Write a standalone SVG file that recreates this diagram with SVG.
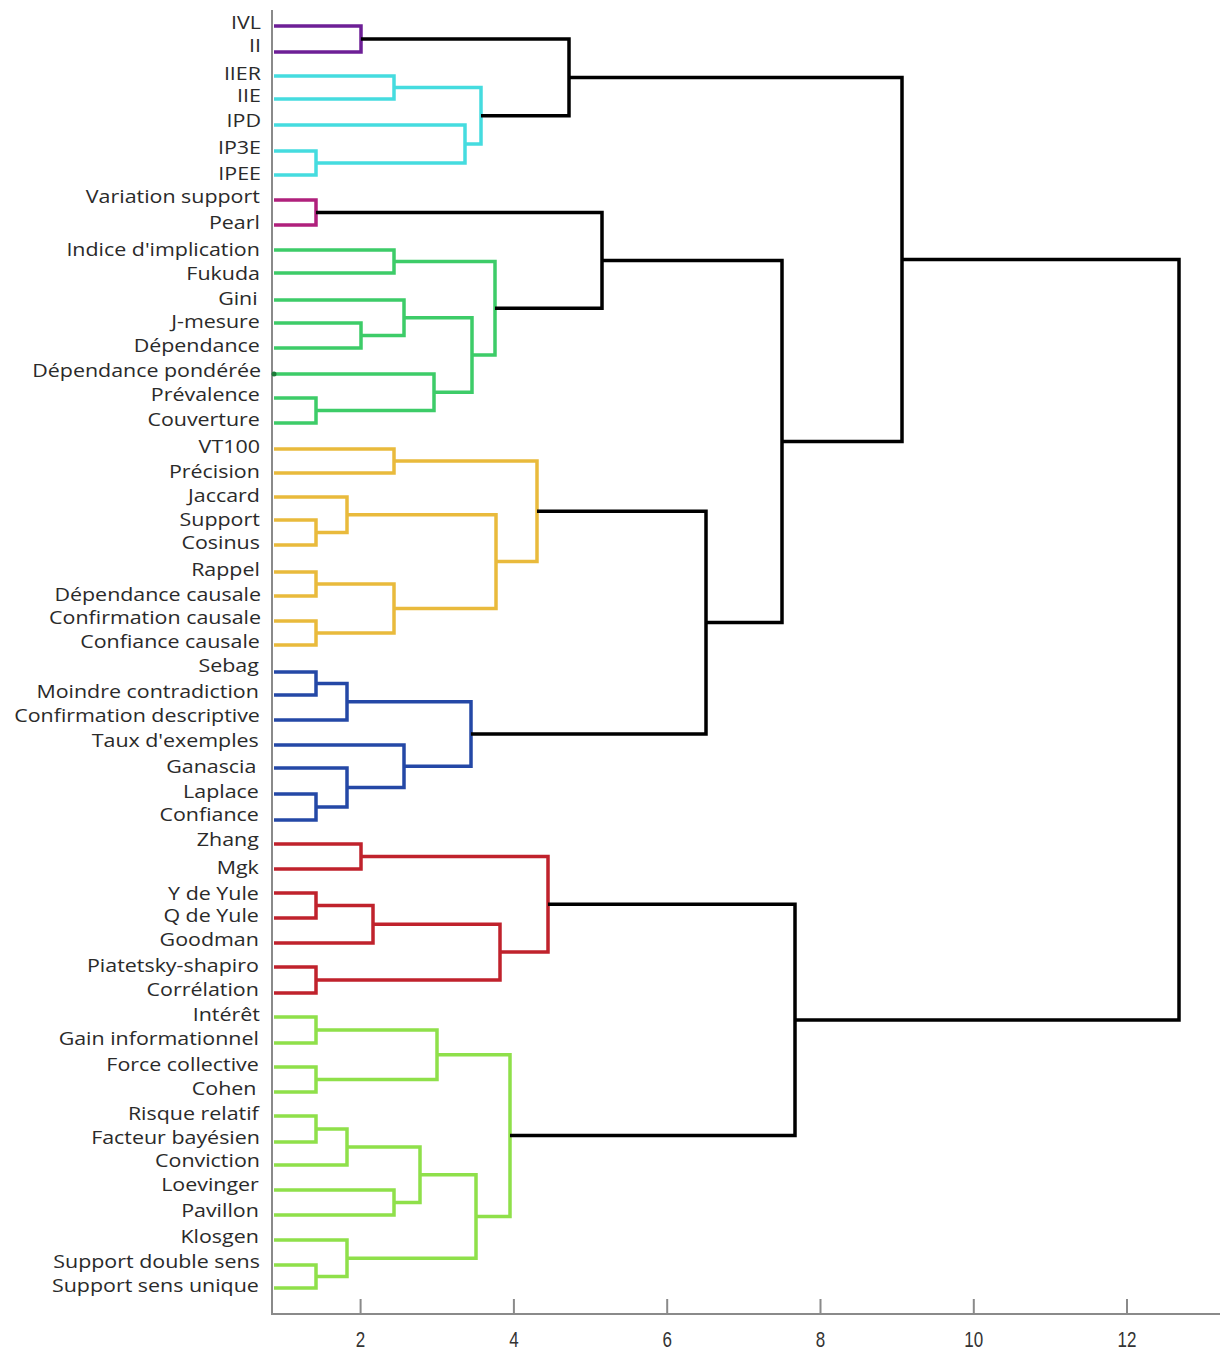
<svg xmlns="http://www.w3.org/2000/svg" width="1223" height="1353" viewBox="0 0 1223 1353">
<style>
.lab{font-family:"Open Sans","DejaVu Sans",sans-serif;font-size:18px;fill:#2a2a2a;text-anchor:end}
.tick{font-family:"Liberation Sans",Arial,sans-serif;font-size:17px;fill:#333;text-anchor:middle}
.br{fill:none;stroke-width:3.5;stroke-linejoin:miter;stroke-linecap:butt}
.purple{stroke:#6d1f96}
.cyan{stroke:#45dcdf}
.mag{stroke:#b0207c}
.green{stroke:#3dcc68}
.yellow{stroke:#e9ba3c}
.blue{stroke:#2448a6}
.red{stroke:#c0222c}
.lime{stroke:#8fe04a}
.black{stroke:#000}
.axis{stroke:#8a8a8a;stroke-width:2;fill:none}
</style>
<rect width="1223" height="1353" fill="#fff"/>
<g id="axis">
<path class="axis" d="M272,10V1314H1220"/>
<path class="axis" d="M360.6,1299V1314M513.9,1299V1314M667.2,1299V1314M820.5,1299V1314M973.8,1299V1314M1127,1299V1314"/>
<g transform="translate(0,1347) scale(1,1.35)">
<text class="tick" x="360.6" y="0">2</text>
<text class="tick" x="513.9" y="0">4</text>
<text class="tick" x="667.2" y="0">6</text>
<text class="tick" x="820.5" y="0">8</text>
<text class="tick" x="973.8" y="0">10</text>
<text class="tick" x="1127" y="0">12</text>
</g>
</g>
<g id="labels" transform="scale(1.19,1)">
<text class="lab" x="219.3" y="29">IVL</text>
<text class="lab" x="219.3" y="52">II</text>
<text class="lab" x="219.3" y="80">IIER</text>
<text class="lab" x="219.3" y="102">IIE</text>
<text class="lab" x="219.3" y="127">IPD</text>
<text class="lab" x="219.3" y="154">IP3E</text>
<text class="lab" x="219.3" y="180">IPEE</text>
<text class="lab" x="218.4" y="203">Variation support</text>
<text class="lab" x="218.4" y="229">Pearl</text>
<text class="lab" x="218.4" y="256">Indice d'implication</text>
<text class="lab" x="218.4" y="280">Fukuda</text>
<text class="lab" x="216.5" y="305">Gini</text>
<text class="lab" x="218.4" y="328">J-mesure</text>
<text class="lab" x="218.4" y="352">Dépendance</text>
<text class="lab" x="219.3" y="377">Dépendance pondérée</text>
<text class="lab" x="218.4" y="401">Prévalence</text>
<text class="lab" x="218.4" y="426">Couverture</text>
<text class="lab" x="218.4" y="453">VT100</text>
<text class="lab" x="218.4" y="478">Précision</text>
<text class="lab" x="218.4" y="502">Jaccard</text>
<text class="lab" x="218.4" y="526">Support</text>
<text class="lab" x="218.4" y="549">Cosinus</text>
<text class="lab" x="218.4" y="576">Rappel</text>
<text class="lab" x="219.3" y="601">Dépendance causale</text>
<text class="lab" x="219.3" y="624">Confirmation causale</text>
<text class="lab" x="218.4" y="648">Confiance causale</text>
<text class="lab" x="217.5" y="672">Sebag</text>
<text class="lab" x="217.5" y="698">Moindre contradiction</text>
<text class="lab" x="218.4" y="722">Confirmation descriptive</text>
<text class="lab" x="217.5" y="747">Taux d'exemples</text>
<text class="lab" x="215.5" y="773">Ganascia</text>
<text class="lab" x="217.5" y="798">Laplace</text>
<text class="lab" x="217.5" y="821">Confiance</text>
<text class="lab" x="217.5" y="846">Zhang</text>
<text class="lab" x="217.5" y="874">Mgk</text>
<text class="lab" x="217.5" y="900">Y de Yule</text>
<text class="lab" x="217.5" y="922">Q de Yule</text>
<text class="lab" x="217.5" y="946">Goodman</text>
<text class="lab" x="217.5" y="972">Piatetsky-shapiro</text>
<text class="lab" x="217.5" y="996">Corrélation</text>
<text class="lab" x="218.4" y="1021">Intérêt</text>
<text class="lab" x="217.5" y="1045">Gain informationnel</text>
<text class="lab" x="217.5" y="1071">Force collective</text>
<text class="lab" x="215.5" y="1095">Cohen</text>
<text class="lab" x="217.5" y="1120">Risque relatif</text>
<text class="lab" x="218.4" y="1144">Facteur bayésien</text>
<text class="lab" x="218.4" y="1167">Conviction</text>
<text class="lab" x="217.5" y="1191">Loevinger</text>
<text class="lab" x="217.5" y="1217">Pavillon</text>
<text class="lab" x="217.5" y="1243">Klosgen</text>
<text class="lab" x="218.4" y="1268">Support double sens</text>
<text class="lab" x="217.5" y="1292">Support sens unique</text>
</g>
<g id="connectors">
<g id="cluster-purple">
<path class="br purple" d="M274,26H361V52H274"/>
</g>
<g id="cluster-cyan">
<path class="br cyan" d="M274,76H394V99H274"/>
<path class="br cyan" d="M274,151H316V175H274"/>
<path class="br cyan" d="M274,125H465V163H316"/>
<path class="br cyan" d="M394,87.5H481V144H465"/>
</g>
<g id="cluster-magenta">
<path class="br mag" d="M274,200H316V225H274"/>
</g>
<g id="cluster-green">
<path class="br green" d="M274,250H394V273H274"/>
<path class="br green" d="M274,323H361V348H274"/>
<path class="br green" d="M274,300H404V335.5H361"/>
<path class="br green" d="M274,398H316V423H274"/>
<path class="br green" d="M274,374H434V410.5H316"/>
<path class="br green" d="M404,317.75H472V392.25H434"/>
<path class="br green" d="M394,261.5H495V355H472"/>
<circle cx="274" cy="374" r="2.5" fill="#1e7a3a"/>
</g>
<g id="cluster-yellow">
<path class="br yellow" d="M274,449H394V473H274"/>
<path class="br yellow" d="M274,520H316V545H274"/>
<path class="br yellow" d="M274,497H347V532.5H316"/>
<path class="br yellow" d="M274,572H316V596H274"/>
<path class="br yellow" d="M274,621H316V645H274"/>
<path class="br yellow" d="M316,584H394V633H316"/>
<path class="br yellow" d="M347,514.75H496V608.5H394"/>
<path class="br yellow" d="M394,461H537V561.6H496"/>
</g>
<g id="cluster-blue">
<path class="br blue" d="M274,672H316V695H274"/>
<path class="br blue" d="M316,683.5H347V720H274"/>
<path class="br blue" d="M274,794H316V820H274"/>
<path class="br blue" d="M274,768H347V807H316"/>
<path class="br blue" d="M274,745H404V787.5H347"/>
<path class="br blue" d="M347,701.75H471V766.25H404"/>
</g>
<g id="cluster-red">
<path class="br red" d="M274,844H361V869H274"/>
<path class="br red" d="M274,893H316V918H274"/>
<path class="br red" d="M316,905.5H373V943H274"/>
<path class="br red" d="M274,967H316V993H274"/>
<path class="br red" d="M373,924.25H500V980H316"/>
<path class="br red" d="M361,856.5H548V952.1H500"/>
</g>
<g id="cluster-lime">
<path class="br lime" d="M274,1017H316V1043H274"/>
<path class="br lime" d="M274,1067H316V1092H274"/>
<path class="br lime" d="M316,1030H437V1079.5H316"/>
<path class="br lime" d="M274,1116H316V1142H274"/>
<path class="br lime" d="M316,1129H347V1165H274"/>
<path class="br lime" d="M274,1190H394V1215H274"/>
<path class="br lime" d="M347,1147H420V1202.5H394"/>
<path class="br lime" d="M274,1265H316V1288H274"/>
<path class="br lime" d="M274,1240H347V1276.5H316"/>
<path class="br lime" d="M420,1174.75H476V1258.25H347"/>
<path class="br lime" d="M437,1054.75H510V1216.5H476"/>
</g>
<g id="cluster-black">
<path class="br black" d="M361,39H569V115.75H481"/>
<path class="br black" d="M316,212.5H602V308.25H495"/>
<path class="br black" d="M537,511.3H706V734H471"/>
<path class="br black" d="M602,260.4H782V622.6H706"/>
<path class="br black" d="M569,77.4H902V441.5H782"/>
<path class="br black" d="M548,904.3H795V1135.6H510"/>
<path class="br black" d="M902,259.5H1179V1020H795"/>
</g>
</g>
</svg>
